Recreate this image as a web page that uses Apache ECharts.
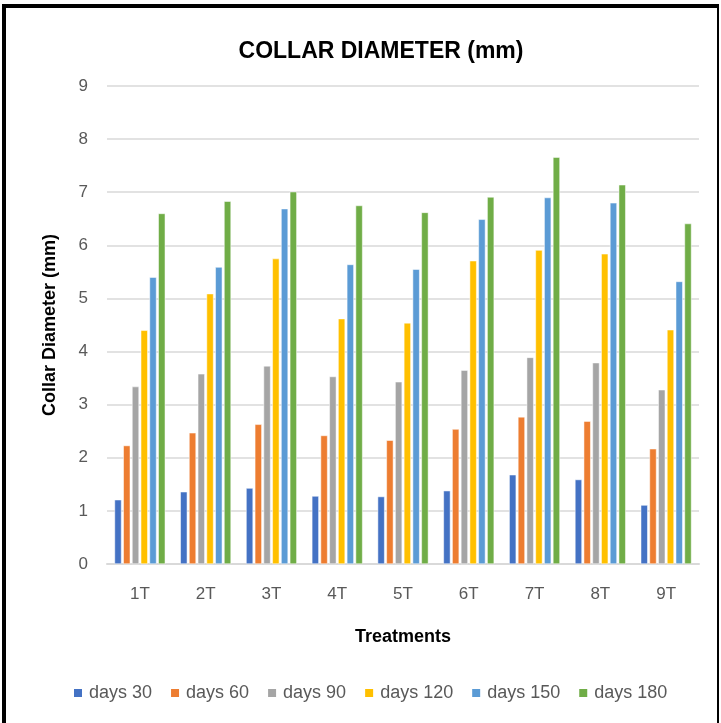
<!DOCTYPE html>
<html>
<head>
<meta charset="utf-8">
<script src="https://cdn.jsdelivr.net/npm/echarts@6/dist/echarts.min.js"></script>
<style>
html,body{margin:0;padding:0;background:#fff;}
#frame{position:absolute;left:2px;top:4px;width:711px;height:730px;border-left:4px solid #000;border-top:4px solid #000;border-right:2px solid #000;}
#chart{position:absolute;left:0;top:0;width:721px;height:723px;}
</style>
</head>
<body>
<div id="frame"></div>
<div id="chart"></div>
<script>
const categories = ['1T','2T','3T','4T','5T','6T','7T','8T','9T'];
const seriesNames = ['days 30','days 60','days 90','days 120','days 150','days 180'];
const days30  = [1.21, 1.36, 1.43, 1.28, 1.27, 1.38, 1.68, 1.59, 1.11];
const days60  = [2.23, 2.47, 2.63, 2.42, 2.33, 2.54, 2.77, 2.69, 2.17];
const days90  = [3.34, 3.58, 3.73, 3.53, 3.43, 3.65, 3.89, 3.79, 3.28];
const days120 = [4.40, 5.09, 5.75, 4.62, 4.54, 5.71, 5.91, 5.84, 4.41];
const days150 = [5.40, 5.59, 6.69, 5.64, 5.55, 6.49, 6.90, 6.80, 5.32];
const days180 = [6.60, 6.83, 7.01, 6.75, 6.62, 6.91, 7.66, 7.14, 6.41];
const colors = ['#4472C4','#ED7D31','#A5A5A5','#FFC000','#5B9BD5','#70AD47'];
const allData = [days30, days60, days90, days120, days150, days180];

const FONT = '"Liberation Sans Narrow", "Liberation Sans", Arial, sans-serif';
const chart = echarts.init(document.getElementById('chart'));
chart.setOption({
  animation: false,
  color: colors,
  title: {
    text: 'COLLAR DIAMETER (mm)',
    left: 376, top: 35, textAlign: 'center',
    textStyle: {fontFamily: FONT, fontSize: 23, fontWeight: 'bold', color: '#000'}
  },
  legend: {
    data: seriesNames,
    bottom: 16, left: 67,
    itemWidth: 10, itemHeight: 10, itemGap: 17,
    icon: 'rect',
    textStyle: {fontFamily: FONT, fontSize: 18, color: '#595959', padding: [0,0,0,1]}
  },
  grid: {left: 107, right: 22, top: 86, bottom: 159, containLabel: false},
  xAxis: {
    type: 'category',
    data: categories,
    name: 'Treatments',
    nameLocation: 'middle',
    nameGap: 64,
    nameTextStyle: {fontFamily: FONT, fontSize: 18, fontWeight: 'bold', color: '#000'},
    axisLine: {lineStyle: {color: '#d9d9d9', width: 2}},
    axisTick: {show: false},
    axisLabel: {fontFamily: FONT, fontSize: 17, color: '#595959', margin: 22}
  },
  yAxis: {
    type: 'value',
    min: 0, max: 9, interval: 1,
    name: 'Collar Diameter (mm)',
    nameLocation: 'middle',
    nameGap: 48,
    nameTextStyle: {fontFamily: FONT, fontSize: 18, fontWeight: 'bold', color: '#000'},
    axisLine: {show: false},
    axisTick: {show: false},
    axisLabel: {fontFamily: FONT, fontSize: 17, color: '#595959', margin: 19},
    splitLine: {lineStyle: {color: '#d9d9d9', width: 1.5}}
  },
  series: seriesNames.map((n, i) => ({
    name: n,
    type: 'bar',
    data: allData[i],
    barWidth: 7,
    barGap: '25%',
    itemStyle: {color: colors[i], borderColor: '#fff', borderWidth: 0.5}
  }))
});
</script>
</body>
</html>
